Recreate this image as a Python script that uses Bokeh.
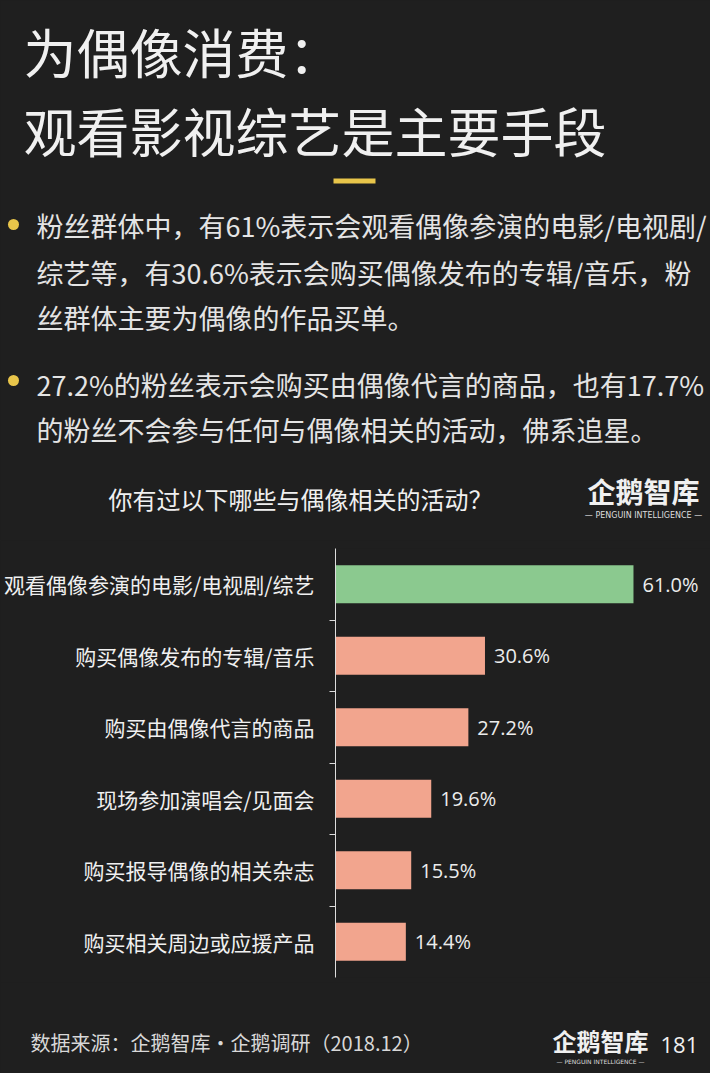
from bokeh.plotting import figure
from bokeh.layouts import column
from bokeh.models import Range1d, FixedTicker
from bokeh.core.properties import value
from bokeh.embed import file_html
from bokeh.resources import INLINE

# ---------------- data ----------------
categories = [
    "观看偶像参演的电影/电视剧/综艺",
    "购买偶像发布的专辑/音乐",
    "购买由偶像代言的商品",
    "现场参加演唱会/见面会",
    "购买报导偶像的相关杂志",
    "购买相关周边或应援产品",
]
shares = [61.0, 30.6, 27.2, 19.6, 15.5, 14.4]

title_lines = ["为偶像消费：", "观看影视综艺是主要手段"]
bullet1 = [
    "粉丝群体中，有61%表示会观看偶像参演的电影/电视剧/",
    "综艺等，有30.6%表示会购买偶像发布的专辑/音乐，粉",
    "丝群体主要为偶像的作品买单。",
]
bullet2 = [
    "27.2%的粉丝表示会购买由偶像代言的商品，也有17.7%",
    "的粉丝不会参与任何与偶像相关的活动，佛系追星。",
]
chart_title = "你有过以下哪些与偶像相关的活动？"
source_text = "数据来源：企鹅智库·企鹅调研（2018.12）"
brand = "企鹅智库"
brand_sub = "— PENGUIN INTELLIGENCE —"
page_no = "181"

# ---------------- styles ----------------
BG = "#1f1f1f"
WHITE = "#f0f0f0"
TEXT = "#e4e4e4"
YELLOW = "#e8c54a"
GREEN = "#8bc98f"
SALMON = "#f2a58e"
CJK = value("Noto Sans CJK SC")
W = 710


def blank(height):
    f = figure(width=W, height=height, x_range=Range1d(0, W), y_range=Range1d(height, 0),
               x_axis_location=None, y_axis_location=None, title=None,
               output_backend="svg", toolbar_location=None,
               min_border=0, outline_line_color=None, frame_align=False,
               background_fill_color=BG, border_fill_color=BG)
    f.grid.visible = False
    return f


# ---------------- header ----------------
H1 = 540
head = blank(H1)
head.text(x=[23, 23], y=[50, 129], text=title_lines, text_font=CJK,
          text_font_size="53px", text_color=WHITE, text_baseline="middle")
head.quad(left=[333], right=[375], top=[178], bottom=[183], color=YELLOW, line_color=None)
head.scatter(x=[13, 13], y=[224, 380], size=11, color=YELLOW, line_color=None)
head.text(x=[36] * 3, y=[225, 272, 317], text=bullet1, text_font=CJK,
          text_font_size="27px", text_color=TEXT, text_baseline="middle")
head.text(x=[36] * 2, y=[384, 429], text=bullet2, text_font=CJK,
          text_font_size="27px", text_color=TEXT, text_baseline="middle")
head.text(x=[300], y=[498], text=[chart_title], text_font=CJK,
          text_font_size="24px", text_color=WHITE, text_baseline="middle",
          text_align="center")
head.text(x=[643], y=[490], text=[brand], text_font=CJK, text_font_style="bold",
          text_font_size="28px", text_color=WHITE, text_baseline="middle",
          text_align="center")
head.text(x=[643], y=[515], text=[brand_sub], text_font=value("DejaVu Sans"),
          text_font_size="8px", text_color="#dddddd", text_baseline="middle",
          text_align="center")

# ---------------- chart ----------------
H2 = 442
ys = list(range(len(categories)))
px_per_pct = 4.885
left_border = 335
xmax = (W - left_border) / px_per_pct
colors = [GREEN if i == 0 else SALMON for i in ys]
labels = [f"{v:.1f}%" for v in shares]

p = figure(width=W, height=H2, x_range=Range1d(0, xmax),
           y_range=Range1d(len(categories) - 0.5, -0.5),
           x_axis_location=None, title=None,
           output_backend="svg", toolbar_location=None,
           min_border_left=left_border, min_border_right=0,
           min_border_top=8, min_border_bottom=5, frame_align=False,
           outline_line_color=None,
           background_fill_color=BG, border_fill_color=BG)
p.grid.visible = False
p.hbar(y=ys, left=0, right=shares, height=0.53, color=colors, line_color=None)
p.text(x=shares, y=ys, text=labels, x_offset=9, text_baseline="middle",
       text_font=value("Open Sans"), text_font_size="20px", text_color="#ececec")

ax = p.yaxis[0]
ax.ticker = FixedTicker(ticks=ys, minor_ticks=[i + 0.5 for i in ys[:-1]])
ax.major_label_overrides = {i: c for i, c in zip(ys, categories)}
ax.major_tick_line_color = None
ax.major_tick_in = 0
ax.major_tick_out = 0
ax.minor_tick_in = 0
ax.minor_tick_out = 6
ax.minor_tick_line_color = "#dddddd"
ax.axis_line_color = "#dddddd"
ax.major_label_standoff = 15
ax.major_label_text_font = "Noto Sans CJK SC"
ax.major_label_text_font_size = "21px"
ax.major_label_text_color = "#f0f0f0"

# ---------------- footer ----------------
H3 = 1073 - H1 - H2
foot = blank(H3)
foot.text(x=[30], y=[60], text=[source_text], text_font=CJK,
          text_font_size="20px", text_color="#d8d8d8", text_baseline="middle")
foot.text(x=[600], y=[58], text=[brand], text_font=CJK, text_font_style="bold",
          text_font_size="24px", text_color=WHITE, text_baseline="middle",
          text_align="center")
foot.text(x=[600], y=[79], text=[brand_sub], text_font=value("DejaVu Sans"),
          text_font_size="6px", text_color="#dddddd", text_baseline="middle",
          text_align="center")
foot.text(x=[660], y=[62], text=[page_no], text_font=value("Open Sans"),
          text_font_size="22px", text_color=WHITE, text_baseline="middle")

layout = column(head, p, foot, spacing=0, styles={"background-color": BG})
open("out.html", "w").write(file_html(layout, INLINE))
